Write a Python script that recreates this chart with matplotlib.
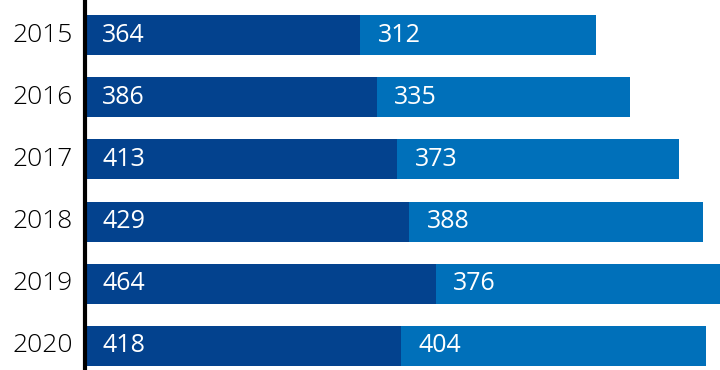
import matplotlib
matplotlib.use("Agg")
import matplotlib.pyplot as plt

years = ["2015", "2016", "2017", "2018", "2019", "2020"]
first = [364, 386, 413, 429, 464, 418]
second = [312, 335, 373, 388, 376, 404]

dark = "#03428E"
light = "#0070BA"

plt.rcParams["font.family"] = ["Open Sans", "DejaVu Sans"]

fig = plt.figure(figsize=(7.2, 3.7), dpi=100)
ax = fig.add_axes([85 / 720, 0, 1 - 85 / 720, 1])

pos = list(range(len(years)))
ax.barh(pos, first, height=0.645, color=dark)
ax.barh(pos, second, left=first, height=0.645, color=light)

for i in pos:
    ax.text(23, i, str(first[i]), color="white", fontsize=18, va="center", ha="left")
    ax.text(first[i] + 23, i, str(second[i]), color="white", fontsize=18, va="center", ha="left")

ax.set_xlim(0, 840)
ax.set_ylim(5.386, -0.563)
ax.set_yticks(pos)
ax.set_yticklabels(years, fontsize=19, fontweight="light", va="center")
ax.tick_params(axis="y", length=0, pad=9)
ax.set_xticks([])
for s in ["top", "right", "bottom"]:
    ax.spines[s].set_visible(False)
ax.spines["left"].set_linewidth(3)
ax.spines["left"].set_color("black")

fig.savefig("out.png", dpi=100)
